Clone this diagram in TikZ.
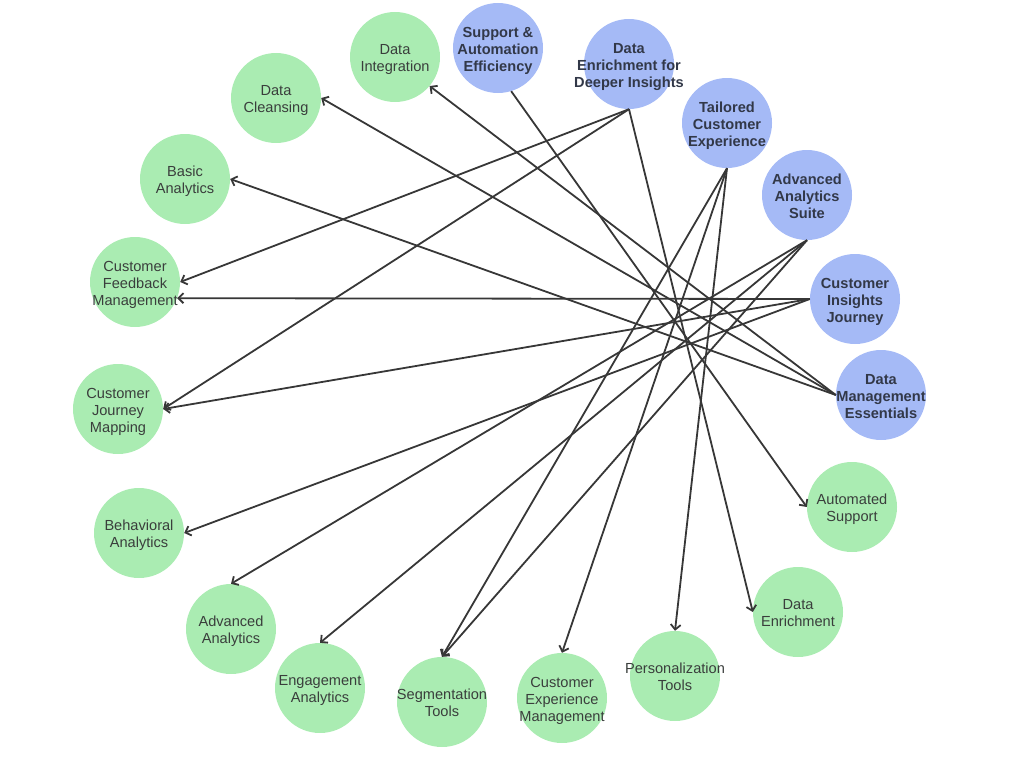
\documentclass[tikz,border=0pt]{standalone}
\usepackage{fontspec}
\setmainfont{Liberation Sans}
\usepackage{xcolor}
\usetikzlibrary{positioning,shapes,arrows.meta}
\definecolor{featfill}{RGB}{170,236,178}
\definecolor{bundfill}{RGB}{165,186,246}
\definecolor{feattext}{RGB}{58,62,60}
\definecolor{bundtext}{RGB}{50,56,72}
\definecolor{edgecol}{RGB}{55,55,55}
\newcommand{\ctext}[1]{\raisebox{-6.6pt}[0pt][0pt]{\makebox[0pt]{\begin{tabular}{@{}c@{}}#1\end{tabular}}}}

\begin{document}
\begin{tikzpicture}
            [x=1pt,y=-1pt,
             every node/.style={circle, inner sep=0pt, minimum size=90pt, font=\fontsize{14.6}{17}\selectfont},
             feature/.style={fill=featfill, text=feattext},
             bundle/.style={fill=bundfill, text=bundtext, font=\fontsize{14.6}{17}\selectfont\bfseries},
             link/.style={draw=edgecol, line width=1.8pt, -{Straight Barb[length=5pt,width=10pt]}}]
            \useasboundingbox (0,0) rectangle (1024,768);
            \node[feature] (di) at (395,57) {\ctext{Data\\Integration}};
            \node[bundle] (sae) at (498,48) {\ctext{Support \&\\Automation\\Efficiency}};
            \node[bundle] (dedi) at (629,64) {\ctext{Data\\Enrichment for\\Deeper Insights}};
            \node[bundle] (tce) at (727,123) {\ctext{Tailored\\Customer\\Experience}};
            \node[bundle] (aas) at (807,195) {\ctext{Advanced\\Analytics\\Suite}};
            \node[bundle] (cij) at (855,299) {\ctext{Customer\\Insights\\Journey}};
            \node[bundle] (dme) at (881,395) {\ctext{Data\\Management\\Essentials}};
            \node[feature] (aut) at (852,507) {\ctext{Automated\\Support}};
            \node[feature] (de) at (798,612) {\ctext{Data\\Enrichment}};
            \node[feature] (pt) at (675,676) {\ctext{Personalization\\Tools}};
            \node[feature] (cem) at (562,698) {\ctext{Customer\\Experience\\Management}};
            \node[feature] (seg) at (442,702) {\ctext{Segmentation\\Tools}};
            \node[feature] (ea) at (320,688) {\ctext{Engagement\\Analytics}};
            \node[feature] (aa) at (231,629) {\ctext{Advanced\\Analytics}};
            \node[feature] (beh) at (139,533) {\ctext{Behavioral\\Analytics}};
            \node[feature] (cjm) at (118,409) {\ctext{Customer\\Journey\\Mapping}};
            \node[feature] (cfm) at (135,282) {\ctext{Customer\\Feedback\\Management}};
            \node[feature] (ba) at (185,179) {\ctext{Basic\\Analytics}};
            \node[feature] (dc) at (276,98) {\ctext{Data\\Cleansing}};

            \foreach \from/\to in {dme.west/dc.east, dme.west/di.-40, dme.west/ba.east,
                                   sae.-73/aut.west,
                                   dedi.south/cfm.east, dedi.south/cjm.east, dedi.south/de.west,
                                   tce.south/seg.north, tce.south/cem.north, tce.south/pt.north,
                                   aas.south/aa.north, aas.south/ea.north, aas.south/seg.north,
                                   cij.west/cfm.-21, cij.west/cjm.east, cij.west/beh.east}
            \draw[link] (\from) -- (\to);
          \end{tikzpicture}
\end{document}
